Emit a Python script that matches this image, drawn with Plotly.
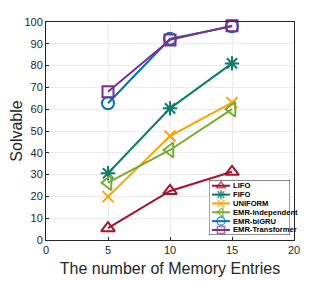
import plotly.graph_objects as go

memory_entries = [5, 10, 15]
series_names = ["LIFO", "FIFO", "UNIFORM", "EMR-Independent", "EMR-biGRU", "EMR-Transformer"]
lifo = [5.4, 22.5, 31.3]
fifo = [30.6, 60.4, 81.0]
uniform = [19.9, 47.7, 63.0]
emr_independent = [26.3, 41.3, 60.0]
emr_bigru = [62.7, 92.3, 98.0]
emr_transformer = [68.0, 91.8, 98.3]
x_ticks = [0, 5, 10, 15, 20]
y_ticks = [0, 10, 20, 30, 40, 50, 60, 70, 80, 90, 100]

series_values = [lifo, fifo, uniform, emr_independent, emr_bigru, emr_transformer]
colors = ["#A2142F", "#0E7C6B", "#FFA100", "#77AC30", "#0072BD", "#7E2F8E"]
symbols = ["triangle-up-open", "asterisk-open", "x-thin-open", "triangle-left-open",
           "circle-open", "square-open"]
sizes = [12, 12, 11, 13, 12, 11]
legend_sizes = [8, 8, 7, 8, 8, 7]

FONT = "Liberation Sans, Arial, Helvetica, sans-serif"
TXT = "#262626"

fig = go.Figure()
for name, vals, c, s, sz in zip(series_names, series_values, colors, symbols, sizes):
    fig.add_trace(go.Scatter(
        x=memory_entries, y=vals, name=name, mode="lines+markers",
        line=dict(color=c, width=2),
        marker=dict(symbol=s, size=sz, color=c, line=dict(color=c, width=2)),
        showlegend=False, cliponaxis=False,
    ))

# Custom compact legend drawn on an overlay axis (units ~ pixels)
LW, LH = 81, 55
fig.add_trace(go.Scatter(
    x=[0, LW, LW, 0, 0], y=[0, 0, LH, LH, 0], xaxis="x2", yaxis="y2",
    mode="lines", fill="toself", fillcolor="white",
    line=dict(color="#262626", width=1), showlegend=False, hoverinfo="skip",
))
for i, (name, c, s, sz) in enumerate(zip(series_names, colors, symbols, legend_sizes)):
    yy = LH - (5.7 + 8.86 * i)
    fig.add_trace(go.Scatter(
        x=[3, 12, 21], y=[yy, yy, yy], xaxis="x2", yaxis="y2",
        mode="lines+markers",
        line=dict(color=c, width=2),
        marker=dict(symbol=s, size=[0, sz, 0], color=c, line=dict(color=c, width=1.6)),
        showlegend=False, hoverinfo="skip",
    ))
    fig.add_annotation(
        x=22, y=yy, xref="x2", yref="y2", text="<b>" + name + "</b>",
        showarrow=False, xanchor="left", yanchor="middle",
        font=dict(family=FONT, size=7.6, color="#000000"),
    )

# page body has an 8px margin, so the figure is offset by (8, 8)
fig.update_layout(
    width=319, height=273,
    margin=dict(l=38, r=33, t=14, b=41),
    paper_bgcolor="white", plot_bgcolor="white",
    font=dict(family=FONT, color=TXT),
    xaxis=dict(
        range=[0, 20], tickvals=x_ticks, ticks="inside", ticklen=3,
        tickcolor=TXT, showline=True, linecolor=TXT, linewidth=1, mirror=True,
        showgrid=True, gridcolor="#EBEBEB", gridwidth=1, zeroline=False,
        tickfont=dict(size=11, color=TXT), automargin=False,
        title=dict(text="The number of Memory Entries", font=dict(size=16, color=TXT), standoff=7),
    ),
    yaxis=dict(
        range=[0, 100], tickvals=y_ticks, ticks="inside", ticklen=3,
        tickcolor=TXT, showline=True, linecolor=TXT, linewidth=1, mirror=True,
        showgrid=True, gridcolor="#EBEBEB", gridwidth=1, zeroline=False,
        tickfont=dict(size=11, color=TXT), automargin=False,
        title=dict(text="Solvable", font=dict(size=16, color=TXT), standoff=3),
    ),
    xaxis2=dict(domain=[0.657, 0.984], range=[0, LW], visible=False, fixedrange=True, anchor="y2"),
    yaxis2=dict(domain=[0.023, 0.275], range=[0, LH], visible=False, fixedrange=True, anchor="x2"),
)

fig.write_html("out.html")
